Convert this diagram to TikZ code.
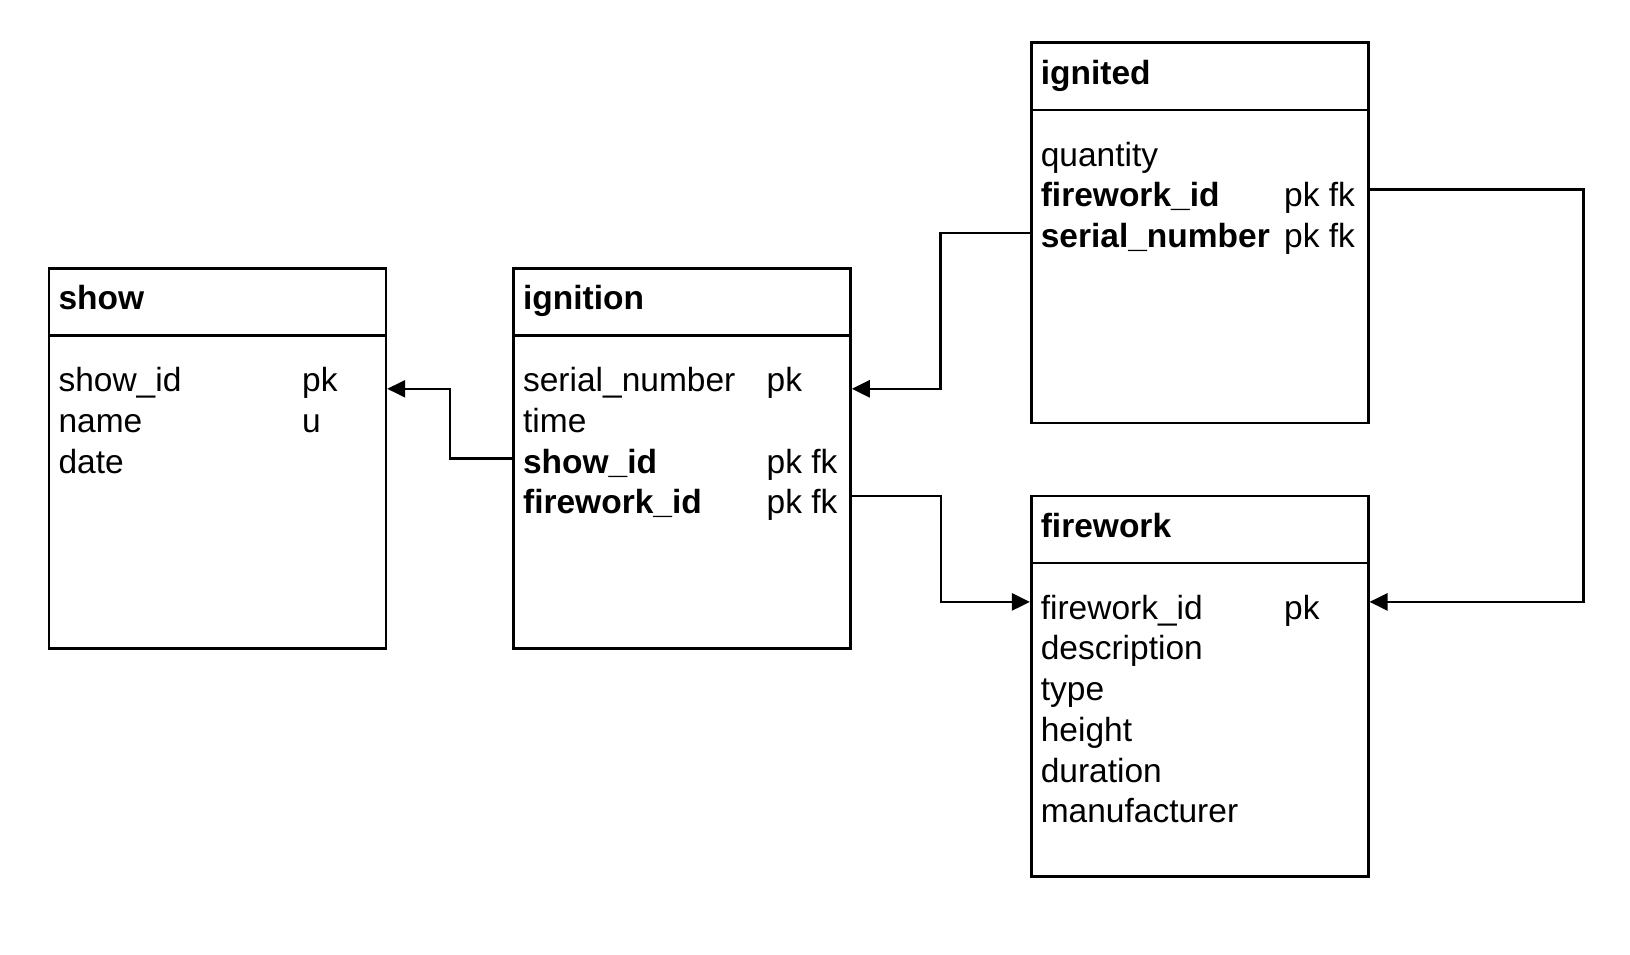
\documentclass[tikz,border=0pt]{standalone}
\usepackage{fontspec}
\setmainfont{Liberation Sans}
\usetikzlibrary{arrows.meta}
\newcommand{\erfont}{\fontsize{33.5}{40.7}\selectfont}
\tikzset{
  tbl/.style={draw, line width=2.6pt, minimum width=337pt, minimum height=380.5pt,
    inner sep=0pt, anchor=north west},
  fld/.style={anchor=base west, inner sep=0pt, font=\erfont},
  ttl/.style={fld, font=\erfont\bfseries},
  key/.style={fld, font=\erfont\bfseries},
  fk/.style={line width=2.6pt, -{Triangle[length=18pt,width=17pt]}},
}
\newcommand{\hdrline}[1]{%
  \draw[line width=2.6pt] ([yshift=-68.6pt]#1.north west) -- ([yshift=-68.6pt]#1.north east);}

\begin{document}
\begin{tikzpicture}[x=1pt,y=-1pt]
  \useasboundingbox (0,0) rectangle (1630,954);

  \node[tbl] (show) at (47.6,266.9)   {};
  \node[tbl] (ign)  at (512.2,266.9)  {};
  \node[tbl] (igd)  at (1029.9,41.3)  {};
  \node[tbl] (fw)   at (1029.9,494.5) {};
  \hdrline{show}\hdrline{ign}\hdrline{igd}\hdrline{fw}

  % show
  \node[ttl] (show_t)  at (58.3,309.6) {show};
  \node[fld] (show_id) at (58.3,391.6) {show\_id};
  \node[fld] (show_nm) at (58.3,432.3) {name};
  \node[fld] (show_dt) at (58.3,473.0) {date};
  \node[fld] (show_k1) at (302,391.6)  {pk};
  \node[fld] (show_k2) at (302,432.3)  {u};

  % ignition
  \node[ttl] (ign_t)   at (522.9,309.6) {ignition};
  \node[fld] (ign_ser) at (522.9,391.6) {serial\_number};
  \node[fld] (ign_tm)  at (522.9,432.3) {time};
  \node[key] (ign_show) at (522.9,473.0) {show\_id};
  \node[key] (ign_fw)  at (522.9,513.7) {firework\_id};
  \node[fld] (ign_k1)  at (766.5,391.6) {pk};
  \node[fld] (ign_k3)  at (766.5,473.0) {pk fk};
  \node[fld] (ign_k4)  at (766.5,513.7) {pk fk};

  % ignited
  \node[ttl] (igd_t)   at (1040.6,84.0)  {ignited};
  \node[fld] (igd_qty) at (1040.6,166.0) {quantity};
  \node[key] (igd_fw)  at (1040.6,206.7) {firework\_id};
  \node[key] (igd_ser) at (1040.6,247.4) {serial\_number};
  \node[fld] (igd_k2)  at (1284,206.7)   {pk fk};
  \node[fld] (igd_k3)  at (1284,247.4)   {pk fk};

  % firework
  \node[ttl] (fw_t)    at (1040.6,537.2) {firework};
  \node[fld] (fw_id)   at (1040.6,619.2) {firework\_id};
  \node[fld] (fw_desc) at (1040.6,659.9) {description};
  \node[fld] (fw_type) at (1040.6,700.6) {type};
  \node[fld] (fw_hgt)  at (1040.6,741.3) {height};
  \node[fld] (fw_dur)  at (1040.6,782.0) {duration};
  \node[fld] (fw_man)  at (1040.6,822.7) {manufacturer};
  \node[fld] (fw_k1)   at (1284,619.2)   {pk};

  % foreign keys
  \draw[fk] ([yshift=14.6pt]ign_show.base -| ign.west) -- ++(-62.1,0)
    |- ([yshift=2.8pt]show_id.base -| show.east);
  \draw[fk] ([yshift=14.5pt]igd_ser.base -| igd.west) -- ++(-89.2,0)
    |- ([yshift=2.8pt]ign_ser.base -| ign.east);
  \draw[fk] ([yshift=17.9pt]ign_fw.base -| ign.east) -- ++(89.1,0)
    |- ([yshift=17.3pt]fw_id.base -| fw.west);
  \draw[fk] ([yshift=17.5pt]igd_fw.base -| igd.east) -- ++(214.1,0)
    |- ([yshift=17.3pt]fw_id.base -| fw.east);
\end{tikzpicture}
\end{document}
